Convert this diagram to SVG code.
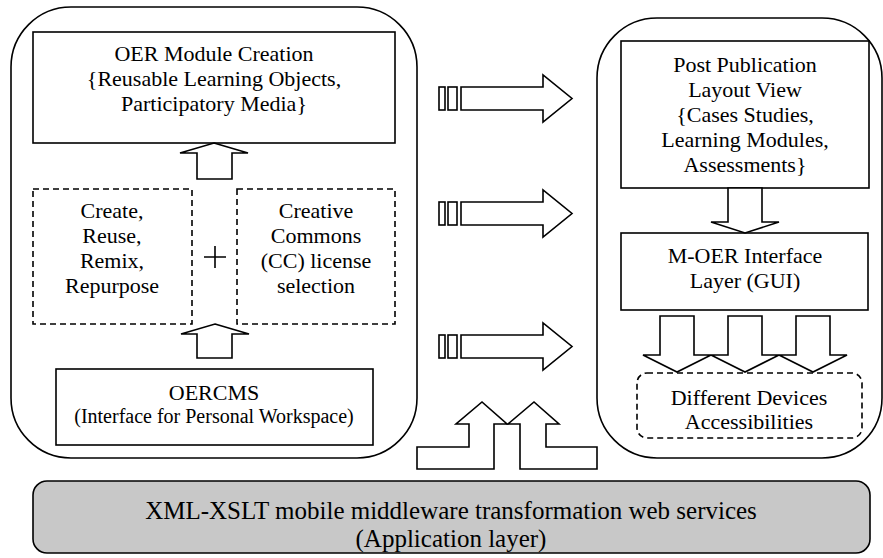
<svg xmlns="http://www.w3.org/2000/svg" width="883" height="558" viewBox="0 0 883 558">
<style>
.box{fill:#fff;stroke:#000;stroke-width:1.6}
.dash{fill:#fff;stroke:#000;stroke-width:1.6;stroke-dasharray:6,4}
.arr{fill:#fff;stroke:#000;stroke-width:1.6;stroke-linejoin:miter}
.t{font-family:"Liberation Serif","Times New Roman",serif;font-size:22px;fill:#000;text-anchor:middle}
.s{font-size:20px}
.b{font-size:25px}
</style>
<rect width="883" height="558" fill="#fff"/>
<g id="left-panel">
<rect class="box" x="11" y="7" width="406" height="451" rx="60" ry="60"/>
</g>
<g id="right-panel">
<rect class="box" x="597" y="18" width="285" height="440" rx="60" ry="60"/>
</g>
<g id="oer-module">
<rect class="box" x="33" y="32" width="362" height="111"/>
<text class="t" x="214" y="61">OER Module Creation</text>
<text class="t" x="214" y="86">{Reusable Learning Objects,</text>
<text class="t" x="214" y="111">Participatory Media}</text>
</g>
<g id="create-reuse">
<rect class="dash" x="33" y="189" width="159" height="135"/>
<text class="t" x="112" y="218">Create,</text>
<text class="t" x="112" y="243">Reuse,</text>
<text class="t" x="112" y="268">Remix,</text>
<text class="t" x="112" y="293">Repurpose</text>
</g>
<g id="plus">
<path d="M204 257H226M215 246V268" stroke="#000" stroke-width="1.6" fill="none"/>
</g>
<g id="creative-commons">
<rect class="dash" x="237" y="189" width="158" height="135"/>
<text class="t" x="316" y="218">Creative</text>
<text class="t" x="316" y="243">Commons</text>
<text class="t" x="316" y="268">(CC) license</text>
<text class="t" x="316" y="293">selection</text>
</g>
<g id="oercms">
<rect class="box" x="56" y="369" width="317" height="76"/>
<text class="t" x="214" y="400">OERCMS</text>
<text class="t s" x="214" y="423">(Interface for Personal Workspace)</text>
</g>
<g id="post-publication">
<rect class="box" x="621" y="41" width="248" height="147"/>
<text class="t" x="745" y="72">Post Publication</text>
<text class="t" x="745" y="97">Layout View</text>
<text class="t" x="745" y="122">{Cases Studies,</text>
<text class="t" x="745" y="147">Learning Modules,</text>
<text class="t" x="745" y="172">Assessments}</text>
</g>
<g id="m-oer-interface">
<rect class="box" x="621" y="233" width="247" height="77"/>
<text class="t" x="745" y="263">M-OER Interface</text>
<text class="t" x="745" y="288">Layer (GUI)</text>
</g>
<g id="devices">
<rect class="dash" x="637" y="373" width="225" height="65" rx="10" ry="10"/>
<text class="t" x="749" y="405">Different Devices</text>
<text class="t" x="749" y="429">Accessibilities</text>
</g>
<g id="middleware">
<rect x="33" y="481" width="837" height="72" rx="14" ry="14" fill="#c8c8c8" stroke="#000" stroke-width="1.6"/>
<text class="t b" x="451" y="519">XML-XSLT mobile middleware transformation web services</text>
<text class="t b" x="451" y="547">(Application layer)</text>
</g>
<g id="connectors">
<polygon class="arr" points="214,143 248,153 232,153 232,179 197,179 197,153 180,153"/>
<polygon class="arr" points="215,324 249,334 232,334 232,358 197,358 197,334 181,334"/>
<g id="arrow-1">
<rect class="arr" x="439" y="87" width="6" height="23"/>
<rect class="arr" x="448" y="87" width="9" height="23"/>
<polygon class="arr" points="461,87 543,87 543,75 572,98.5 543,122 543,110 461,110"/>
</g>
<g id="arrow-2">
<rect class="arr" x="439" y="202" width="6" height="23"/>
<rect class="arr" x="448" y="202" width="9" height="23"/>
<polygon class="arr" points="461,202 543,202 543,190 572,213.5 543,237 543,225 461,225"/>
</g>
<g id="arrow-3">
<rect class="arr" x="439" y="335" width="6" height="23"/>
<rect class="arr" x="448" y="335" width="9" height="23"/>
<polygon class="arr" points="461,335 543,335 543,323 572,346.5 543,370 543,358 461,358"/>
</g>
<polygon class="arr" points="728,188 762,188 762,222 779,222 745,233 711,222 728,222"/>
<polygon class="arr" points="660,316 694,316 694,355 711,355 677,372 643,355 660,355"/>
<polygon class="arr" points="728,316 762,316 762,355 779,355 745,372 711,355 728,355"/>
<polygon class="arr" points="796,316 830,316 830,355 847,355 813,372 779,355 796,355"/>
<polygon class="arr" points="417,447 469,447 469,424 456,424 482,402 507,424 494,424 494,469 417,469"/>
<polygon class="arr" points="520,469 520,424 508,424 534,402 559,424 546,424 546,447 597,447 597,469"/>
</g>
</svg>
